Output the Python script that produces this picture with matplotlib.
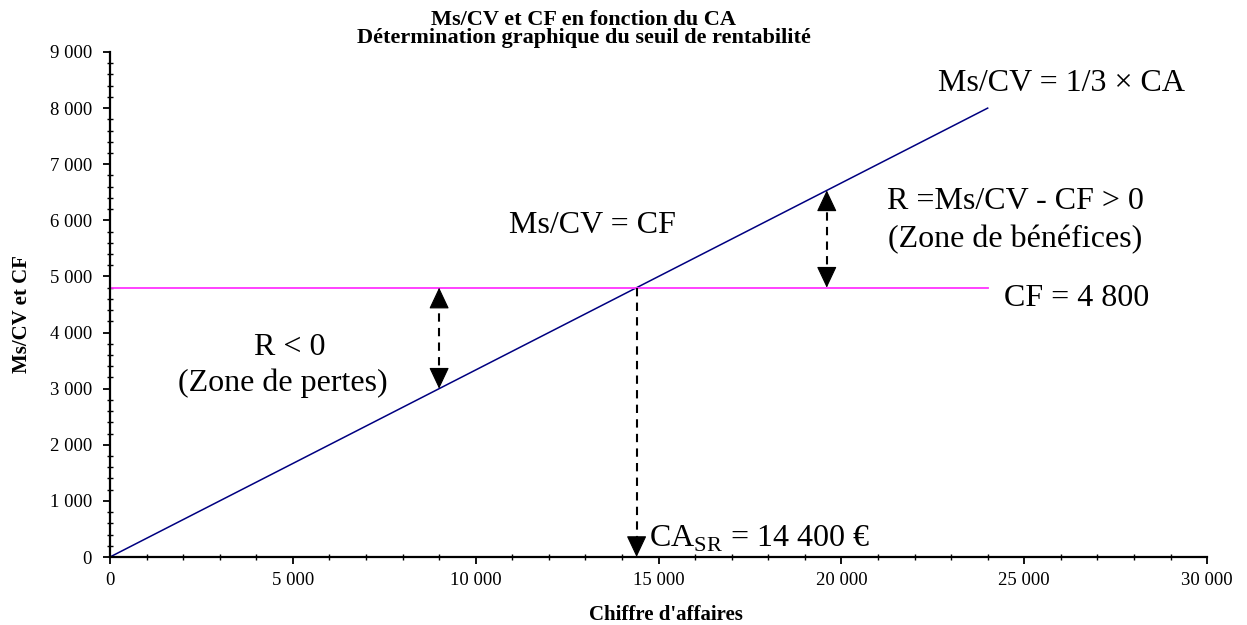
import matplotlib.pyplot as plt
from matplotlib.ticker import FuncFormatter, MultipleLocator

plt.rcParams["font.family"] = ["Liberation Serif", "DejaVu Serif"]

# données du graphique
ca = [0, 24000]
ms_cv = [0, 8000]
cf = [4800, 4800]
ca_seuil = 14400
cf_value = 4800
x_pertes = 9000
x_benefices = 19600
ratio = 1 / 3

TETE = "-|>,head_length=0.85,head_width=0.4"


def fmt_milliers(v, _pos):
    return f"{int(round(v)):,}".replace(",", " ")


def tete(ax, x, y_tip, sens):
    # pointe pleine ; sens = +1 vers le haut, -1 vers le bas
    ax.annotate(
        "",
        xy=(x, y_tip),
        xytext=(x, y_tip - sens * 200),
        arrowprops=dict(arrowstyle=TETE, color="black", lw=0.8,
                        mutation_scale=16, shrinkA=0, shrinkB=0),
        annotation_clip=False,
    )


def pointilles(ax, x, y0, y1):
    ax.plot([x, x], [y0, y1], color="black", lw=1.5, linestyle=(0, (4, 3)), clip_on=False)


def main() -> None:
    fig = plt.figure(figsize=(12.47, 6.25), dpi=100)
    ax = fig.add_axes([0.0882, 0.1088, 0.8798, 0.808])

    ax.plot(ca, ms_cv, color="#000080", lw=1.1)
    ax.plot(ca, cf, color="#FF33FF", lw=1.3)

    ax.set_xlim(0, 30000)
    ax.set_ylim(0, 9000)
    ax.xaxis.set_major_locator(MultipleLocator(5000))
    ax.xaxis.set_minor_locator(MultipleLocator(1000))
    ax.yaxis.set_major_locator(MultipleLocator(1000))
    ax.yaxis.set_minor_locator(MultipleLocator(200))
    ax.xaxis.set_major_formatter(FuncFormatter(fmt_milliers))
    ax.yaxis.set_major_formatter(FuncFormatter(fmt_milliers))
    ax.tick_params(which="major", direction="out", length=5, width=1.3, labelsize=13.5)
    ax.tick_params(which="minor", direction="inout", length=5, width=1.0)
    ax.tick_params(axis="x", which="major", pad=6)
    ax.tick_params(axis="y", which="major", pad=8)
    for side in ("top", "right"):
        ax.spines[side].set_visible(False)
    for side in ("left", "bottom"):
        ax.spines[side].set_linewidth(1.6)

    # flèches : zone de pertes, zone de bénéfices, seuil
    y_pertes = ratio * x_pertes
    pointilles(ax, x_pertes, y_pertes + 150, cf_value - 150)
    tete(ax, x_pertes, cf_value, 1)
    tete(ax, x_pertes, y_pertes, -1)

    y_benef = ratio * x_benefices
    pointilles(ax, x_benefices, cf_value + 150, y_benef - 150)
    tete(ax, x_benefices, y_benef, 1)
    tete(ax, x_benefices, cf_value, -1)

    pointilles(ax, ca_seuil, cf_value, 150)
    tete(ax, ca_seuil, 0, -1)

    fs = 23
    ax.text(26030, 8447, "Ms/CV = 1/3 × CA", fontsize=fs, ha="center", va="center")
    ax.text(24750, 6344, "R =Ms/CV - CF > 0", fontsize=fs, ha="center", va="center")
    ax.text(24750, 5650, "(Zone de bénéfices)", fontsize=fs, ha="center", va="center")
    ax.text(13180, 5916, "Ms/CV = CF", fontsize=fs, ha="center", va="center")
    ax.text(26440, 4615, "CF = 4 800", fontsize=fs, ha="center", va="center")
    ax.text(4922, 3742, "R < 0", fontsize=fs, ha="center", va="center")
    ax.text(4730, 3100, "(Zone de pertes)", fontsize=fs, ha="center", va="center")
    ax.text(17750, 330, r"CA$_{\mathregular{SR}}$ = 14 400 €", fontsize=fs, ha="center", va="center")

    fig.text(0.468, 0.960, "Ms/CV et CF en fonction du CA", fontsize=16, fontweight="bold",
             ha="center", va="baseline")
    fig.text(0.468, 0.931, "Détermination graphique du seuil de rentabilité", fontsize=16,
             fontweight="bold", ha="center", va="baseline")
    fig.text(0.534, 0.016, "Chiffre d'affaires", fontsize=15, fontweight="bold",
             ha="center", va="center")
    fig.text(0.018, 0.498, "Ms/CV et CF", fontsize=15, fontweight="bold", rotation=90,
             ha="center", va="center")

    fig.savefig("out.png", dpi=100)
    plt.close(fig)


if __name__ == "__main__":
    main()
